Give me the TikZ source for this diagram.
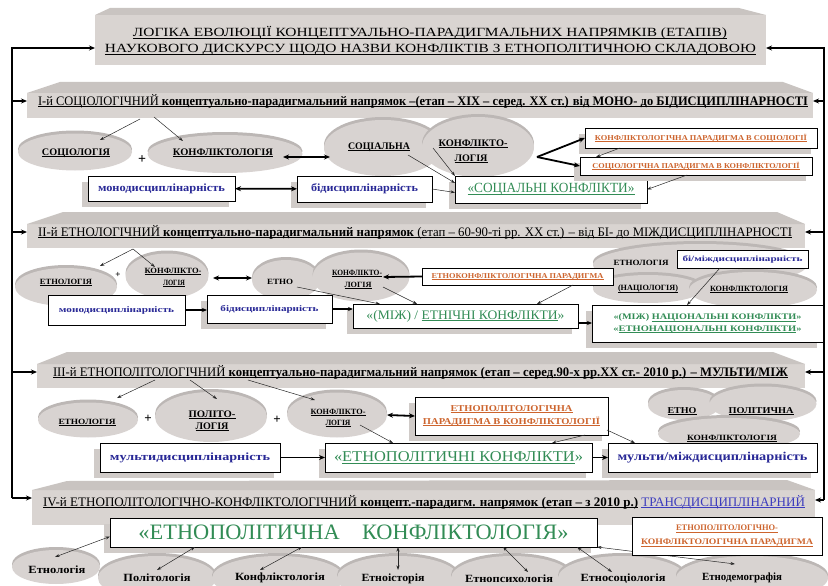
\documentclass[tikz,border=0pt]{standalone}
\usepackage{fontspec}
\setmainfont{Liberation Serif}
\usepackage{graphicx}
\usetikzlibrary{arrows.meta,shapes.geometric,shadows}
\newcommand\fw[2]{\resizebox{#1}{\height}{#2}}
\newcommand\uu[1]{\leavevmode\setbox0\hbox{#1}\rlap{\rule[-0.16em]{\wd0}{0.075em}}\box0\relax}
\definecolor{barc}{RGB}{217,212,209}
\definecolor{bevc}{RGB}{201,196,193}
\definecolor{discc}{RGB}{216,211,209}
\definecolor{rimc}{RGB}{188,183,181}
\definecolor{shc}{RGB}{208,203,200}
\definecolor{grn}{RGB}{50,140,85}
\definecolor{blu}{RGB}{40,40,150}
\definecolor{blu2}{RGB}{60,60,190}
\definecolor{org}{RGB}{205,100,45}
\pgfdeclarelayer{bg}\pgfdeclarelayer{boxes}\pgfdeclarelayer{mid}\pgfsetlayers{bg,boxes,mid,main}
\begin{document}
\begin{tikzpicture}[x=1pt,y=-1pt,
 every node/.style={inner sep=0pt, outer sep=0pt},
 bar/.style={rectangle, fill=barc, draw=none},
 bev/.style={fill=bevc, draw=none},
 dsc/.style 2 args={ellipse, fill=discc, draw=none, general shadow={fill=rimc, shadow yshift=3pt}, minimum width=#1pt, minimum height=#2pt},
 box/.style 2 args={rectangle, draw=black, line width=0.8pt, fill=white, minimum width=#1pt, minimum height=#2pt},
 sbox/.style 2 args={box={#1}{#2}, general shadow={fill=shc, shadow xshift=-6pt, shadow yshift=-6pt}},
 lb/.style={font=\bfseries\fontsize{#1}{#1}\selectfont},
 rg/.style={font=\fontsize{#1}{#1}\selectfont},
 frm/.style={line width=1.4pt, black},
 farr/.style={frm, -{Stealth[length=6pt,width=5pt]}},
 tarr/.style={line width=0.5pt, black!85, -{Stealth[length=4.5pt,width=3pt]}},
 tdarr/.style={line width=0.5pt, black!85, {Stealth[length=4.5pt,width=3pt]}-{Stealth[length=4.5pt,width=3pt]}},
 marr/.style={line width=1.4pt, -{Stealth[length=5pt,width=4pt]}},
 karr/.style={line width=1.8pt, -{Stealth[length=6pt,width=5pt]}},
 kdarr/.style={line width=1.8pt, {Stealth[length=6pt,width=5pt]}-{Stealth[length=6pt,width=5pt]}},
]
\useasboundingbox (0,0) rectangle (828,586);
\clip (0,0) rectangle (828,586);

% ---------------- background: bars and discs
\begin{pgfonlayer}{bg}
\node[bar, minimum width=671pt, minimum height=50pt] (tbar) at (430.5,40) {};
\fill[bev] (95,15) -- (110,8) -- (739,8) -- (766,15) -- cycle;
\node[bar, minimum width=786pt, minimum height=25pt] (bar1) at (420,105.5) {};
\fill[bev] (27,93) -- (60,82) -- (783,82) -- (813,93) -- cycle;
\node[bar, minimum width=778pt, minimum height=24pt] (bar2) at (416,236) {};
\fill[bev] (27,224) -- (63,212) -- (777,212) -- (805,224) -- cycle;
\node[bar, minimum width=768pt, minimum height=24pt] (bar3) at (421,376) {};
\fill[bev] (37,364) -- (67,352) -- (773,352) -- (805,364) -- cycle;
\node[bar, minimum width=783pt, minimum height=35pt] (bar4) at (423.5,507.5) {};
\fill[bev] (32,490) -- (67,481) -- (787,480) -- (815,490) -- cycle;
% section I discs
\node[dsc={114}{37}] (d1a) at (75,152) {};
\node[dsc={155}{38}] (d1b) at (225,154) {};
\node[dsc={118}{56}] (d1c) at (383,148) {};
\node[dsc={112}{60}] (d1d) at (478,147) {};
% section II discs
\node[dsc={102}{38}] (d2a) at (66,287) {};
\node[dsc={83}{45}] (d2b) at (167,276) {};
\node[dsc={68}{40}] (d2c) at (286,280) {};
\node[dsc={97}{49}] (d2d) at (361,277) {};
\node[dsc={214}{42}] (d2e) at (700,265) {};
\node[dsc={110}{28}] (d2f) at (648,289) {};
\node[dsc={128}{36}] (d2g) at (753,290) {};
% section III discs
\node[dsc={100}{35}] (d3a) at (88,420) {};
\node[dsc={112}{50}] (d3b) at (211,417) {};
\node[dsc={100}{45}] (d3c) at (337,415) {};
\node[dsc={72}{30}] (d3d) at (684,405) {};
\node[dsc={107}{35}] (d3e) at (763,404) {};
\node[dsc={142}{32}] (d3f) at (729,434) {};
% section IV discs
\node[dsc={88}{34}] (d4a) at (56,567) {};
\node[dsc={118}{44}] (d4b) at (157,578) {};
\node[dsc={132}{44}] (d4c) at (278,578) {};
\node[dsc={122}{44}] (d4d) at (398,578) {};
\node[dsc={122}{44}] (d4e) at (512,578) {};
\node[dsc={128}{44}] (d4f) at (622,578) {};
\node[dsc={152}{44}] (d4g) at (752,578) {};
\end{pgfonlayer}

% ---------------- texts of the bars
\node[rg=12.5] (t1) at (430,33) {\fw{594pt}{\uu{ЛОГІКА ЕВОЛЮЦІЇ КОНЦЕПТУАЛЬНО-ПАРАДИГМАЛЬНИХ НАПРЯМКІВ (ЕТАПІВ)}}};
\node[rg=12.5] (t2) at (430.5,50) {\fw{651pt}{\uu{НАУКОВОГО ДИСКУРСУ ЩОДО НАЗВИ КОНФЛІКТІВ З ЕТНОПОЛІТИЧНОЮ СКЛАДОВОЮ}}};
\node[rg=13, anchor=west] (h1) at (38,101) {\fw{770pt}{\uu{І-й СОЦІОЛОГІЧНИЙ \textbf{концептуально-парадигмальний напрямок –(етап – XIX – серед. XX ст.) від МОНО- до БІДИСЦИПЛІНАРНОСТІ}}}};
\node[rg=13, anchor=west] (h2) at (38,232) {\fw{754pt}{\uu{ІІ-й ЕТНОЛОГІЧНИЙ \textbf{концептуально-парадигмальний напрямок} (етап – 60-90-ті рр. XX ст.) – від БІ- до МІЖДИСЦИПЛІНАРНОСТІ}}};
\node[rg=13, anchor=west] (h3) at (53,372) {\fw{735pt}{\uu{ІІІ-й ЕТНОПОЛІТОЛОГІЧНИЙ \textbf{концептуально-парадигмальний напрямок (етап – серед.90-х рр.XX ст.- 2010 р.) – МУЛЬТИ/МІЖ}}}};
\node[rg=13, anchor=west] (h4) at (43,502) {\fw{762pt}{\uu{ІV-й ЕТНОПОЛІТОЛОГІЧНО-КОНФЛІКТОЛОГІЧНИЙ \textbf{концепт.-парадигм. напрямок (етап – з 2010 р.)}}\ \textcolor{blu2}{\uu{ТРАНСДИСЦИПЛІНАРНИЙ}}}};

% ---------------- labels on discs
\node[lb=10] (l1a) at (76,153) {\fw{68pt}{\uu{СОЦІОЛОГІЯ}}};
\node[lb=10] (l1b) at (223,153) {\fw{100pt}{\uu{КОНФЛІКТОЛОГІЯ}}};
\node[lb=10] (l1c) at (379,147) {\fw{62pt}{\uu{СОЦІАЛЬНА}}};
\node[lb=10] (l1d) at (473,144) {\fw{69pt}{\uu{КОНФЛІКТО-}}};
\node[lb=10] (l1e) at (471,159) {\fw{33pt}{\uu{ЛОГІЯ}}};
\node[lb=14] (p1) at (142,160) {+};
\node[lb=8] (l2a) at (66,282) {\fw{52pt}{\uu{ЕТНОЛОГІЯ}}};
\node[lb=8] (l2b) at (173,271) {\fw{57pt}{\uu{КОНФЛІКТО-}}};
\node[lb=8] (l2c) at (174,283) {\fw{22pt}{\uu{ЛОГІЯ}}};
\node[lb=8] (l2d) at (280,282) {\fw{26pt}{ЕТНО}};
\node[lb=8] (l2e) at (357,273) {\fw{50pt}{\uu{КОНФЛІКТО-}}};
\node[lb=8] (l2f) at (358,285) {\fw{27pt}{\uu{ЛОГІЯ}}};
\node[lb=8] (l2g) at (641,263) {\fw{55pt}{ЕТНОЛОГІЯ}};
\node[lb=8] (l2h) at (648,289) {\fw{60pt}{\uu{(НАЦІОЛОГІЯ)}}};
\node[lb=8] (l2i) at (749,289) {\fw{78pt}{\uu{КОНФЛІКТОЛОГІЯ}}};
\node[lb=9] (p2) at (118,275) {+};
\node[lb=8] (l3a) at (87,422) {\fw{57pt}{\uu{ЕТНОЛОГІЯ}}};
\node[lb=10] (l3b) at (212,415) {\fw{47pt}{\uu{ПОЛІТО-}}};
\node[lb=10] (l3c) at (212,427) {\fw{33pt}{\uu{ЛОГІЯ}}};
\node[lb=8] (l3d) at (338,412) {\fw{55pt}{\uu{КОНФЛІКТО-}}};
\node[lb=8] (l3e) at (338,423) {\fw{25pt}{\uu{ЛОГІЯ}}};
\node[lb=9] (l3f) at (682,411) {\fw{29pt}{\uu{ЕТНО}}};
\node[lb=9] (l3g) at (761,411) {\fw{65pt}{\uu{ПОЛІТИЧНА}}};
\node[lb=8] (l3h) at (732,438) {\fw{90pt}{\uu{КОНФЛІКТОЛОГІЯ}}};
\node[lb=13] (p3) at (148,419) {+};
\node[lb=13] (p4) at (277,420) {+};
\node[lb=11] (l4a) at (57,570) {\fw{57pt}{Етнологія}};
\node[lb=11] (l4b) at (157,578) {\fw{67pt}{Політологія}};
\node[lb=11] (l4c) at (280,578) {\fw{90pt}{Конфліктологія}};
\node[lb=11] (l4d) at (393,579) {\fw{63pt}{Етноісторія}};
\node[lb=11] (l4e) at (509,579) {\fw{88pt}{Етнопсихологія}};
\node[lb=11] (l4f) at (623,579) {\fw{85pt}{Етносоціологія}};
\node[lb=11] (l4g) at (742,578) {\fw{80pt}{Етнодемографія}};

% ---------------- boxes
\begin{pgfonlayer}{boxes}
\node[sbox={147}{25}, lb=11, text=blu] (b1m) at (161.5,188.5) {\fw{127pt}{монодисциплінарність}};
\node[sbox={135}{26}, lb=11, text=blu] (b1b) at (364.5,189) {\fw{107pt}{бідисциплінарність}};
\node[sbox={192}{27}, rg=14, text=grn] (b1s) at (551,189.5) {\fw{167pt}{\uu{«СОЦІАЛЬНІ КОНФЛІКТИ»}}};
\node[sbox={232}{20}, lb=7.5, text=org] (b1p1) at (701,138) {\fw{212pt}{\uu{КОНФЛІКТОЛОГІЧНА ПАРАДИГМА В СОЦІОЛОГІЇ}}};
\node[sbox={232}{18}, lb=7.5, text=org] (b1p2) at (696,166) {\fw{207pt}{\uu{СОЦІОЛОГІЧНА ПАРАДИГМА В КОНФЛІКТОЛОГІЇ}}};
\node[box={137}{30}, lb=8.5, text=blu] (b2m) at (116.5,310) {\fw{115pt}{монодисциплінарність}};
\node[sbox={125}{28}, lb=8.5, text=blu] (b2b) at (269.5,309) {\fw{98pt}{бідисциплінарність}};
\node[box={191}{17}, lb=7.5, text=org] (b2p) at (517.5,276.5) {\fw{172pt}{\uu{ЕТНОКОНФЛІКТОЛОГІЧНА ПАРАДИГМА}}};
\node[sbox={225}{24}, rg=13, text=grn] (b2e) at (465.5,316) {\fw{198pt}{«(МІЖ) / \uu{ЕТНІЧНІ КОНФЛІКТИ}»}};
\node[sbox={231}{37}, text=grn, align=center, font=\bfseries\fontsize{8.5}{11.5}\selectfont] (b2n) at (707.5,323.5) {\fw{188pt}{«(МІЖ) \uu{НАЦІОНАЛЬНІ КОНФЛІКТИ}»}\\ \fw{188pt}{«\uu{ЕТНОНАЦІОНАЛЬНІ КОНФЛІКТИ}»}};
\node[box={131}{18}, lb=8, text=blu] (b2i) at (742.5,259) {\fw{120pt}{бі/міждисциплінарність}};
\node[sbox={193}{38}, text=org, align=center, font=\bfseries\fontsize{9}{13}\selectfont] (b3p) at (511.5,416) {\fw{122pt}{\uu{ЕТНОПОЛІТОЛОГІЧНА}}\\ \fw{177pt}{\uu{ПАРАДИГМА В КОНФЛІКТОЛОГІЇ}}};
\node[sbox={180}{29}, lb=11, text=blu] (b3m) at (190,457.5) {\fw{160pt}{мультидисциплінарність}};
\node[sbox={267}{29}, rg=15, text=grn] (b3e) at (458.5,457.5) {\fw{249pt}{«\uu{ЕТНОПОЛІТИЧНІ КОНФЛІКТИ}»}};
\node[sbox={209}{29}, lb=12, text=blu] (b3mm) at (712.5,457.5) {\fw{190pt}{мульти/міждисциплінарність}};
\node[sbox={487}{29}, rg=22, text=grn] (b4) at (353.5,532.5) {\fw{430pt}{«ЕТНОПОЛІТИЧНА\quad КОНФЛІКТОЛОГІЯ»}};
\end{pgfonlayer}
\node[box={190}{38}, text=org, align=center, font=\bfseries\fontsize{8.5}{14}\selectfont] (b4p) at (727,536) {\fw{102pt}{\uu{ЕТНОПОЛІТОЛОГІЧНО-}}\\ \fw{172pt}{\uu{КОНФЛІКТОЛОГІЧНА ПАРАДИГМА}}};

% ---------------- connectors
\begin{pgfonlayer}{mid}
\coordinate (LT) at (12,48); \coordinate (LB) at (12,498);
\coordinate (RT) at (824,48); \coordinate (RB) at (824,500);
\draw[farr] (LB) -- (LT) -- (LT -| tbar.west);
\draw[farr] (RB) -- (RT) -- (RT -| tbar.east);
\draw[farr] (LT |- h1) -- (h1 -| bar1.west);
\draw[farr] (LT |- h2) -- (h2 -| bar2.west);
\draw[farr] (LT |- h3) -- (h3 -| bar3.west);
\draw[farr] (LB) -- (LB -| bar4.west);
\draw[farr] (RT |- h1) -- (h1 -| bar1.east);
\draw[farr] (RT |- h2) -- (h2 -| bar2.east);
\draw[farr] (RT |- h3) -- (h3 -| bar3.east);
\draw[farr] (RB) -- (RB -| bar4.east);
% section I
\coordinate (s1) at (140,119); \coordinate (e1) at (100,140);
\coordinate (s2) at (154,117); \coordinate (e2) at (183,141);
\coordinate (k1) at (283,157); \coordinate (k2) at (330,157);
\coordinate (s3) at (408,155); \coordinate (e3) at (455,183);
\coordinate (s4) at (433,148);
\coordinate (s5) at (687,175);
\coordinate (s6) at (620,148); \coordinate (e6) at (596,157);
\coordinate (fk) at (537,157);
\draw[tarr] (s1) -- (e1);
\draw[tarr] (s2) -- (e2);
\draw[kdarr] (k1) -- (k2);
\draw[kdarr] (b1m) -- (b1b);
\draw[tarr] (s3) -- (e3);
\draw[tarr] (s4) -- (b1s.north west);
\draw[tarr] (b1b.east) -- ([yshift=-3pt]b1s.west);
\draw[tarr] (s5) -- (b1s.east);
\draw[tarr] (s6) -- (e6);
\draw[karr] (fk) -- (b1p1.west);
\draw[karr] (fk) -- (b1p2.west);
% section II
\coordinate (s7) at (133,249); \coordinate (e7) at (100,266); \coordinate (e8) at (155,267);
\coordinate (k3) at (213,278); \coordinate (k4) at (252,278);
\coordinate (e9) at (383,277);
\coordinate (s10) at (573,285); \coordinate (e10) at (537,304);
\coordinate (s11) at (297,287); \coordinate (e11) at (380,304);
\coordinate (s12) at (383,287); \coordinate (e12) at (417,304);
\coordinate (s13) at (720,268); \coordinate (e13) at (687,305);
\draw[tarr] (s7) -- (e7);
\draw[tarr] (s7) -- (e8);
\draw[kdarr] (k3) -- (k4);
\draw[karr] (b2p.west) -- (e9);
\draw[tarr] (s10) -- (e10);
\draw[tarr] (s11) -- (e11);
\draw[tarr] (s12) -- (e12);
\draw[tarr] (s13) -- (e13);
\draw[marr] (b2m.east) -- (b2m.east -| b2b.west);
\draw[marr] (b2b.east) -- (b2b.east -| b2e.west);
\draw[marr] ([yshift=-7pt]b2e.east) -- ([yshift=-7pt]b2e.east -| b2n.west);
% section III
\coordinate (s14) at (155,380); \coordinate (e14) at (117,398);
\coordinate (s15) at (190,380); \coordinate (e15) at (217,399);
\coordinate (s16) at (248,380); \coordinate (e16) at (315,400);
\coordinate (s17) at (360,425); \coordinate (e17) at (393,443);
\coordinate (s18) at (585,435); \coordinate (e18) at (552,443);
\coordinate (s19) at (607,430); \coordinate (e19) at (635,443);
\draw[tarr] (s14) -- (e14);
\draw[tarr] (s15) -- (e15);
\draw[tarr] (s16) -- (e16);
\draw[kdarr] (d3c.east) -- (b3p.west);
\draw[karr] (b3m) -- (b3e);
\draw[tarr] (s17) -- (e17);
\draw[karr] (b3e) -- (b3mm);
\draw[tarr] (s18) -- (e18);
\draw[tarr] (s19) -- (e19);
% section IV
\coordinate (q1) at (55,557);
\coordinate (q2) at (157,570); \coordinate (q2e) at (195,547);
\coordinate (q3) at (260,570); \coordinate (q3e) at (302,547);
\coordinate (q4) at (398,570); \coordinate (q4e) at (398,547);
\coordinate (q5) at (528,572); \coordinate (q5e) at (503,547);
\coordinate (q6) at (612,572); \coordinate (q6e) at (577,547);
\coordinate (q7) at (735,564);
\draw[tdarr] (q1) -- ([yshift=-4pt]b4.west);
\draw[tdarr] (q2) -- (q2e);
\draw[tdarr] (q3) -- (q3e);
\draw[tdarr] (q4) -- (q4e);
\draw[tdarr] (q5) -- (q5e);
\draw[tdarr] (q6) -- (q6e);
\draw[tdarr] (q7) -- (b4.south east);
\end{pgfonlayer}
\end{tikzpicture}
\end{document}
